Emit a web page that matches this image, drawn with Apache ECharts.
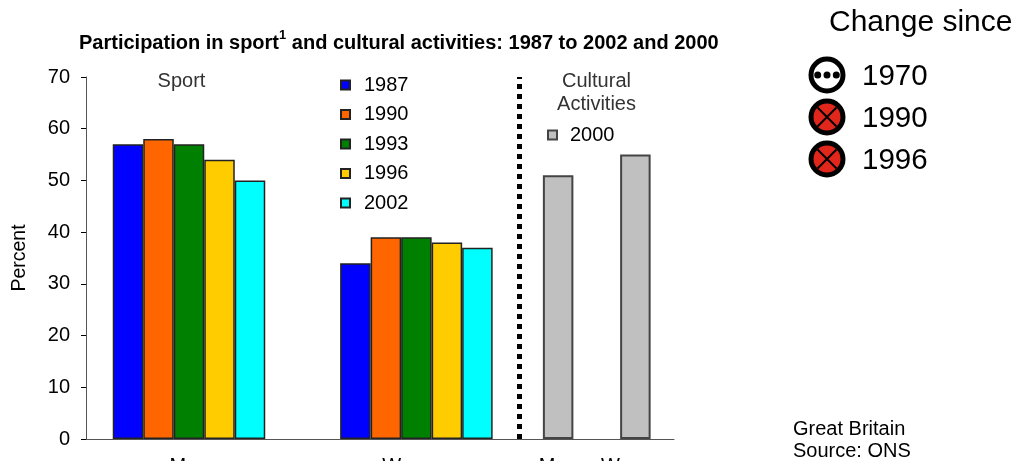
<!DOCTYPE html>
<html>
<head>
<meta charset="utf-8">
<style>
  html, body { margin: 0; padding: 0; background: #fff; overflow: hidden; }
  #chart { width: 1015px; height: 461px; }
</style>
<script src="https://cdn.jsdelivr.net/npm/echarts@6/dist/echarts.min.js"></script>
</head>
<body>
<div id="chart"></div>
<script>
const groups = ['Men', 'Women'];
const sportYears = ['1987', '1990', '1993', '1996', '2002'];
const sport1987 = [57, 34];
const sport1990 = [58, 39];
const sport1993 = [57, 39];
const sport1996 = [54, 38];
const sport2002 = [50, 37];
const culture2000 = [51, 55];
const sportValues = [sport1987, sport1990, sport1993, sport1996, sport2002];
const sportColors = ['#0000ff', '#ff6600', '#008000', '#ffcc00', '#00ffff'];
const changeYears = ['1970', '1990', '1996'];
const changeKinds = ['dots', 'cross', 'cross'];

const font = '"Liberation Sans", Arial, sans-serif';
const axisGrey = '#555';
const chart = echarts.init(document.getElementById('chart'));

function changeIcon(kind, year, i) {
  const cx = 827, cy = 75 + i * 42;
  const kids = [{
    type: 'circle',
    shape: {cx, cy, r: 16},
    style: {fill: kind === 'cross' ? '#e1261c' : '#fff', stroke: '#000', lineWidth: 5}
  }];
  if (kind === 'cross') {
    kids.push({type: 'line', shape: {x1: cx - 9.5, y1: cy - 9.5, x2: cx + 9.5, y2: cy + 9.5}, style: {stroke: '#000', lineWidth: 2}});
    kids.push({type: 'line', shape: {x1: cx - 9.5, y1: cy + 9.5, x2: cx + 9.5, y2: cy - 9.5}, style: {stroke: '#000', lineWidth: 2}});
  } else {
    [-9.3, 0, 9.3].forEach(dx => kids.push({type: 'circle', shape: {cx: cx + dx, cy, r: 3.5}, style: {fill: '#000'}}));
  }
  kids.push({type: 'text', style: {x: 862, y: cy + 2, text: year, font: '29.5px ' + font, fill: '#000', textVerticalAlign: 'middle'}});
  return {type: 'group', children: kids};
}

const option = {
  animation: false,
  backgroundColor: '#fff',
  textStyle: {fontFamily: font},
  title: {
    text: '{t|Participation in sport}{s|1}{t| and cultural activities: 1987 to 2002 and 2000}',
    left: 74, top: 24,
    textStyle: {
      rich: {
        t: {fontFamily: font, fontSize: 20, lineHeight: 28, fontWeight: 'bold', color: '#000'},
        s: {fontFamily: font, fontSize: 13, lineHeight: 14, fontWeight: 'bold', color: '#000', verticalAlign: 'top'}
      }
    }
  },
  legend: [
    {
      data: sportYears, orient: 'vertical', left: 335, top: 70,
      icon: 'rect', itemWidth: 9, itemHeight: 9, itemGap: 9.5,
      textStyle: {fontFamily: font, fontSize: 20, color: '#000', padding: [0, 0, 0, 9]},
      selectedMode: false
    },
    {
      data: ['2000'], left: 542, top: 120,
      icon: 'rect', itemWidth: 9, itemHeight: 9,
      textStyle: {fontFamily: font, fontSize: 20, color: '#000', padding: [0, 0, 0, 8]},
      selectedMode: false
    }
  ],
  grid: [
    {left: 86, top: 77, width: 433.5, height: 362, outerBoundsMode: 'none'},
    {left: 519.5, top: 77, width: 154.5, height: 362, outerBoundsMode: 'none'},
    {left: 75.3, top: 77, width: 454.8, height: 362, outerBoundsMode: 'none'}
  ],
  xAxis: [
    {
      gridIndex: 0, type: 'category', data: groups,
      axisLine: {lineStyle: {color: axisGrey}},
      axisTick: {length: 5, lineStyle: {color: '#000'}},
      axisLabel: {show: false}
    },
    {
      gridIndex: 1, type: 'category', data: groups,
      axisLine: {lineStyle: {color: axisGrey}},
      axisTick: {length: 5, lineStyle: {color: '#000'}},
      axisLabel: {fontFamily: font, fontSize: 20, color: '#000', margin: 17, hideOverlap: false, interval: 0}
    },
    {
      gridIndex: 2, type: 'category', data: groups,
      axisLine: {show: false}, axisTick: {show: false},
      axisLabel: {fontFamily: font, fontSize: 20, color: '#000', margin: 17, interval: 0}
    }
  ],
  yAxis: [
    {
      gridIndex: 0, type: 'value', min: 0, max: 70, interval: 10,
      name: 'Percent', nameLocation: 'middle', nameGap: 56, nameRotate: 90,
      nameTextStyle: {fontFamily: font, fontSize: 19.5, color: '#000'},
      axisLine: {show: true, lineStyle: {color: axisGrey}},
      axisTick: {show: true, length: 5, lineStyle: {color: '#000'}},
      axisLabel: {fontFamily: font, fontSize: 20, color: '#000', margin: 16},
      splitLine: {show: false}
    },
    {
      // the thick dotted divider is this axis's line
      gridIndex: 1, type: 'value', min: 0, max: 70, interval: 10,
      axisLine: {show: true, lineStyle: {color: '#000', width: 5, type: [5, 5], cap: 'butt'}},
      axisTick: {show: false}, axisLabel: {show: false}, splitLine: {show: false}
    },
    {gridIndex: 2, type: 'value', min: 0, max: 70, show: false, splitLine: {show: false}}
  ],
  series: sportYears.map((year, i) => ({
    name: year, type: 'bar', xAxisIndex: 2, yAxisIndex: 2,
    data: sportValues[i], barWidth: 30.5, barGap: 0,
    itemStyle: {color: sportColors[i], borderColor: '#222', borderWidth: 1.5}
  })).concat([{
    name: '2000', type: 'bar', xAxisIndex: 1, yAxisIndex: 1,
    data: culture2000, barWidth: 30.5,
    itemStyle: {color: '#c0c0c0', borderColor: '#444', borderWidth: 2}
  }]),
  graphic: [
    {type: 'text', style: {x: 181.5, y: 81, text: 'Sport', font: '20px ' + font, fill: '#333', textAlign: 'center', textVerticalAlign: 'middle'}},
    {type: 'text', style: {x: 596.5, y: 81, text: 'Cultural', font: '20px ' + font, fill: '#333', textAlign: 'center', textVerticalAlign: 'middle'}},
    {type: 'text', style: {x: 596.5, y: 104, text: 'Activities', font: '20px ' + font, fill: '#333', textAlign: 'center', textVerticalAlign: 'middle'}},
    {type: 'text', style: {x: 829, y: 23, text: 'Change since', font: '30px ' + font, fill: '#000', textVerticalAlign: 'middle'}},
    {type: 'text', style: {x: 793, y: 429, text: 'Great Britain', font: '20px ' + font, fill: '#000', textVerticalAlign: 'middle'}},
    {type: 'text', style: {x: 793, y: 451, text: 'Source: ONS', font: '20px ' + font, fill: '#000', textVerticalAlign: 'middle'}}
  ].concat(changeYears.map((year, i) => changeIcon(changeKinds[i], year, i)))
};
chart.setOption(option);
</script>
</body>
</html>
